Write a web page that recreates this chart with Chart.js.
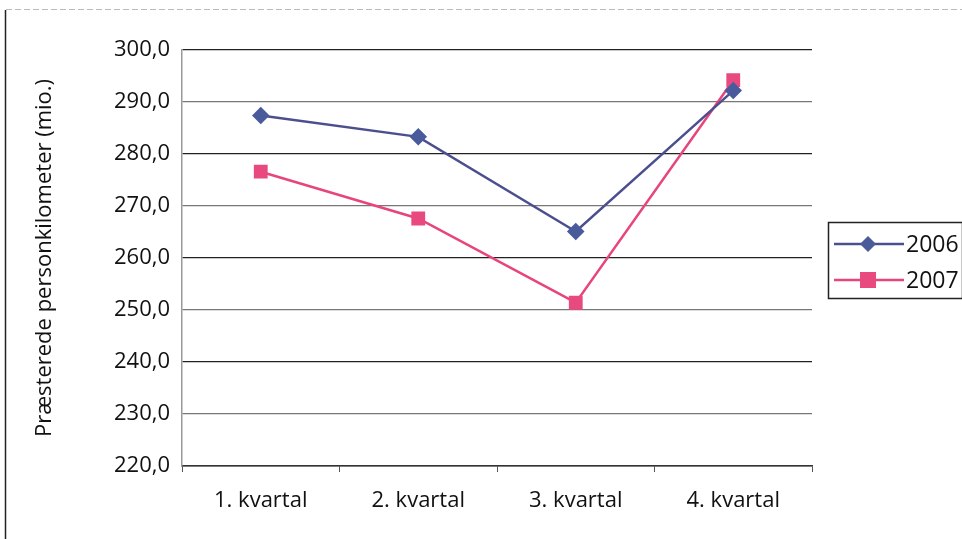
<!DOCTYPE html>
<html>
<head>
<meta charset="utf-8">
<script src="https://cdn.jsdelivr.net/npm/chart.js@4"></script>
<style>
  html, body { margin: 0; padding: 0; background: #fff; }
  #wrap { width: 962px; height: 539px; position: relative; }
</style>
</head>
<body>
<div id="wrap"><canvas id="chart" width="962" height="539"></canvas></div>
<script>
// Data
const categories = ['1. kvartal', '2. kvartal', '3. kvartal', '4. kvartal'];
const seriesNames = ['2006', '2007'];
const values2006 = [287.4, 283.3, 265.1, 292.2];
const values2007 = [276.6, 267.6, 251.4, 294.2];
const yTicks = [220, 230, 240, 250, 260, 270, 280, 290, 300];

const FONT = "'Open Sans', 'DejaVu Sans', sans-serif";
const navy = '#4b4f8e';
const pink = '#e8457c';

// frame of the scanned figure
const framePlugin = {
    id: 'frame',
    beforeDraw(chart) {
        const ctx = chart.ctx;
        ctx.save();
        ctx.strokeStyle = '#bbb';
        ctx.setLineDash([6, 3]);
        ctx.lineWidth = 1;
        ctx.beginPath();
        ctx.moveTo(6, 9.5);
        ctx.lineTo(962, 9.5);
        ctx.stroke();
        ctx.setLineDash([]);
        ctx.strokeStyle = '#222';
        ctx.lineWidth = 1.5;
        ctx.beginPath();
        ctx.moveTo(5.5, 10);
        ctx.lineTo(5.5, 539);
        ctx.stroke();
        ctx.restore();
    }
};

// boxed legend with line + marker
const legendBox = {
    id: 'legendBox',
    afterDraw(chart) {
        const ctx = chart.ctx;
        const x = 828, y = 222, w = 134, h = 76;
        ctx.save();
        ctx.strokeStyle = '#222';
        ctx.lineWidth = 1.5;
        ctx.strokeRect(x + 0.5, y + 0.5, w, h);
        chart.data.datasets.forEach((ds, i) => {
            const cy = y + 22 + i * 36;
            ctx.strokeStyle = ds.borderColor;
            ctx.lineWidth = 2.5;
            ctx.beginPath();
            ctx.moveTo(x + 6, cy);
            ctx.lineTo(x + 76, cy);
            ctx.stroke();
            ctx.fillStyle = ds.pointBackgroundColor;
            ctx.beginPath();
            if (ds.pointStyle === 'rectRot') {
                ctx.moveTo(x + 40, cy - 8);
                ctx.lineTo(x + 48, cy);
                ctx.lineTo(x + 40, cy + 8);
                ctx.lineTo(x + 32, cy);
                ctx.closePath();
            } else {
                ctx.rect(x + 32, cy - 8, 16, 16);
            }
            ctx.fill();
            ctx.fillStyle = '#111';
            ctx.font = '23px ' + FONT;
            ctx.textBaseline = 'middle';
            ctx.textAlign = 'left';
            ctx.fillText(ds.label, x + 78, cy + 1);
        });
        ctx.restore();
    }
};

new Chart(document.getElementById('chart').getContext('2d'), {
    type: 'line',
    data: {
        labels: categories,
        datasets: [
            {
                label: seriesNames[0],
                data: values2006,
                borderColor: navy,
                backgroundColor: navy,
                pointBackgroundColor: '#4a5b9c',
                pointBorderColor: '#4a5b9c',
                pointStyle: 'rectRot',
                pointRadius: 7,
                borderWidth: 2.5,
                tension: 0
            },
            {
                label: seriesNames[1],
                data: values2007,
                borderColor: pink,
                backgroundColor: pink,
                pointBackgroundColor: '#e84a80',
                pointBorderColor: '#e84a80',
                pointStyle: 'rect',
                pointRadius: 8,
                borderWidth: 2.5,
                tension: 0
            }
        ]
    },
    options: {
        responsive: false,
        animation: false,
        layout: { padding: { left: 32, top: 50, right: 150, bottom: 24 } },
        plugins: {
            legend: { display: false },
            tooltip: { enabled: false }
        },
        scales: {
            x: {
                offset: true,
                grid: {
                    offset: true,
                    drawOnChartArea: false,
                    drawTicks: true,
                    tickLength: 6,
                    color: '#555'
                },
                border: { color: '#333', width: 1.5 },
                ticks: {
                    color: '#111',
                    font: { family: FONT, size: 22 },
                    padding: 16
                },
                afterFit(scale) { scale.height = 539 - 466 - 24; }
            },
            y: {
                min: 220,
                max: 300,
                afterBuildTicks(scale) { scale.ticks = yTicks.map(v => ({ value: v })); },
                grid: {
                    color: (c) => (c.index % 2 === 0 ? '#222' : '#777'),
                    lineWidth: 1.2,
                    drawTicks: false
                },
                border: { color: '#999', width: 1.5 },
                ticks: {
                    color: '#111',
                    font: { family: FONT, size: 22 },
                    padding: 12,
                    callback: (v) => v.toFixed(1).replace('.', ',')
                },
                title: {
                    display: true,
                    text: 'Præsterede personkilometer (mio.)',
                    color: '#111',
                    font: { family: FONT, size: 22 },
                    padding: { top: 0, bottom: 6 }
                },
                afterFit(scale) { scale.width = 182 - 32; }
            }
        }
    },
    plugins: [framePlugin, legendBox]
});
</script>
</body>
</html>
